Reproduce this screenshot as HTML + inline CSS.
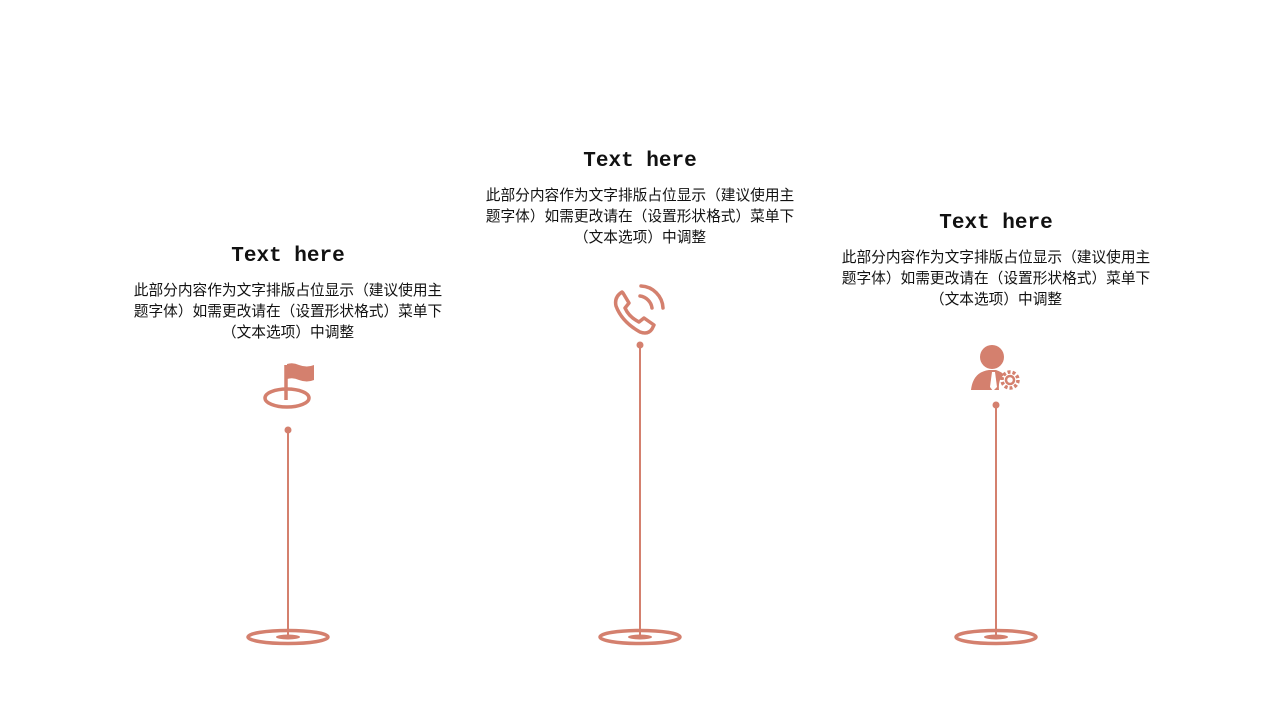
<!DOCTYPE html>
<html><head><meta charset="utf-8"><style>
body{margin:0;background:#fff;}
svg{display:block}
.t{font-family:"Liberation Mono","Noto Serif CJK SC",monospace;font-weight:bold;font-size:21px;fill:#111;text-anchor:middle}
.d{font-family:"Liberation Sans","Noto Sans CJK SC",sans-serif;font-size:14.7px;fill:#111;text-anchor:middle}
</style></head><body>
<svg width="1280" height="720" viewBox="0 0 1280 720">
<g fill="none" stroke="#d4806e">
<line x1="288" y1="430" x2="288" y2="637" stroke-width="2"/>
<ellipse cx="288" cy="637" rx="40" ry="6.5" stroke-width="3.5"/>
<line x1="640" y1="345" x2="640" y2="637" stroke-width="2"/>
<ellipse cx="640" cy="637" rx="40" ry="6.5" stroke-width="3.5"/>
<line x1="996" y1="405" x2="996" y2="637" stroke-width="2"/>
<ellipse cx="996" cy="637" rx="40" ry="6.5" stroke-width="3.5"/>
<ellipse cx="287" cy="398" rx="22" ry="9" stroke-width="3.5"/>
<line x1="286" y1="365" x2="286" y2="400" stroke-width="3.5"/>
<path d="M622 292 q-8 5 -6 14 q6 16 24 26 q8 3 12 -3 l2 -4 l-10 -7 l-5 4 q-10 -5 -14 -14 l4 -5 l-6 -10 z" stroke-width="3.5" stroke-linejoin="round"/>
<path d="M640 296 a14 14 0 0 1 12 12" stroke-width="3.5" stroke-linecap="round"/>
<path d="M641 286 a23 23 0 0 1 22 22" stroke-width="3.5" stroke-linecap="round"/>
<circle cx="1010" cy="380" r="8" stroke-width="3.5" stroke-dasharray="3 2"/>
<circle cx="1010" cy="380" r="4" stroke-width="2.5"/>
</g>
<g fill="#d4806e">
<ellipse cx="288" cy="637" rx="12" ry="2.5"/>
<ellipse cx="640" cy="637" rx="12" ry="2.5"/>
<ellipse cx="996" cy="637" rx="12" ry="2.5"/>
<circle cx="288" cy="430" r="3.5"/>
<circle cx="640" cy="345" r="3.5"/>
<circle cx="996" cy="405" r="3.5"/>
<path d="M287 364 q6 -2 12 1 q8 3 15 0 v15 q-7 3 -15 0 q-6 -3 -12 -1 z"/>
<circle cx="992" cy="357" r="12"/>
<path d="M971 390 q2 -18 18 -20 l7 0 q6 2 8 5 q-6 4 -5 15 z"/>
<path d="M992 372 l3 0 l2 15 l-4 4 l-3 -4 z" fill="#fff"/>
</g>
<text class="t" x="288" y="261">Text here</text>
<text class="d" x="288" y="295">此部分内容作为文字排版占位显示（建议使用主</text>
<text class="d" x="288" y="316">题字体）如需更改请在（设置形状格式）菜单下</text>
<text class="d" x="288" y="337">（文本选项）中调整</text>
<text class="t" x="640" y="166">Text here</text>
<text class="d" x="640" y="200">此部分内容作为文字排版占位显示（建议使用主</text>
<text class="d" x="640" y="221">题字体）如需更改请在（设置形状格式）菜单下</text>
<text class="d" x="640" y="242">（文本选项）中调整</text>
<text class="t" x="996" y="228">Text here</text>
<text class="d" x="996" y="262">此部分内容作为文字排版占位显示（建议使用主</text>
<text class="d" x="996" y="283">题字体）如需更改请在（设置形状格式）菜单下</text>
<text class="d" x="996" y="304">（文本选项）中调整</text>
</svg>
</body></html>
